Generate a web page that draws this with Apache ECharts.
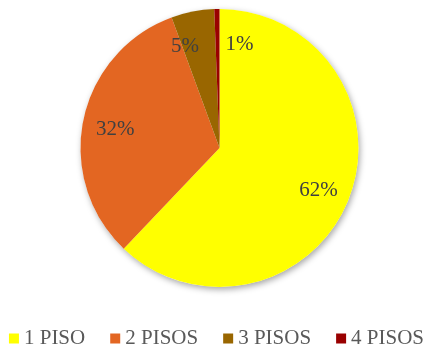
<!DOCTYPE html>
<html>
<head>
<meta charset="utf-8">
<script src="https://cdn.jsdelivr.net/npm/echarts@6/dist/echarts.min.js"></script>
<style>
  html, body { margin: 0; padding: 0; background: #ffffff; }
  #chart { width: 433px; height: 349px; }
</style>
</head>
<body>
<div id="chart"></div>
<script>
// Share of buildings by number of floors (percent)
var categories = ['1 PISO', '2 PISOS', '3 PISOS', '4 PISOS'];
var shares = [62.1, 32.3, 5.0, 0.6];
var colors = ['#FFFF00', '#E36622', '#996600', '#990000'];

var FONT = "'Liberation Serif', 'Times New Roman', serif";
var CENTER = [219.5, 148];
var RADIUS = 139;

var pieData = categories.map(function (name, i) {
  return { name: name, value: shares[i], itemStyle: { color: colors[i] } };
});

// Small sideways nudges so the two thin top slices keep their labels apart
var labelNudge = { '3 PISOS': -14, '4 PISOS': 22 };

var chart = echarts.init(document.getElementById('chart'), null, { renderer: 'canvas' });
chart.setOption({
  animation: false,
  backgroundColor: '#ffffff',
  legend: {
    data: categories,
    left: 'center',
    top: 328,
    padding: 0,
    icon: 'rect',
    itemWidth: 10,
    itemHeight: 10,
    itemGap: 25,
    textStyle: { fontFamily: FONT, fontSize: 21, color: '#595959', padding: [0, 0, 0, 0] }
  },
  series: [
    {
      // soft drop shadow under the whole disc
      type: 'pie',
      silent: true,
      center: CENTER,
      radius: RADIUS,
      z: 1,
      label: { show: false },
      labelLine: { show: false },
      legendHoverLink: false,
      data: [{ value: 1, name: '', itemStyle: { color: '#ffffff', shadowBlur: 6, shadowOffsetX: 1.5, shadowOffsetY: 2.5, shadowColor: 'rgba(0,0,0,0.35)' } }],
      tooltip: { show: false }
    },
    {
      type: 'pie',
      name: 'Pisos',
      center: CENTER,
      radius: RADIUS,
      startAngle: 90,
      clockwise: true,
      z: 2,
      avoidLabelOverlap: false,
      itemStyle: { borderWidth: 0 },
      label: { show: false },
      labelLine: { show: false },
      data: pieData
    },
    {
      // transparent ring that carries the percentage labels
      type: 'pie',
      silent: true,
      center: CENTER,
      radius: [68, RADIUS],
      startAngle: 90,
      clockwise: true,
      z: 3,
      avoidLabelOverlap: false,
      legendHoverLink: false,
      itemStyle: { color: 'rgba(0,0,0,0)', borderWidth: 0 },
      label: {
        show: true,
        position: 'inside',
        fontFamily: FONT,
        fontSize: 21,
        color: '#404040',
        formatter: function (p) { return Math.round(p.percent) + '%'; }
      },
      labelLine: { show: false },
      labelLayout: function (params) {
        var name = categories[params.dataIndex];
        return { dx: labelNudge[name] || 0, dy: 3 };
      },
      data: categories.map(function (name, i) { return { name: name, value: shares[i] }; })
    }
  ]
});
</script>
</body>
</html>
